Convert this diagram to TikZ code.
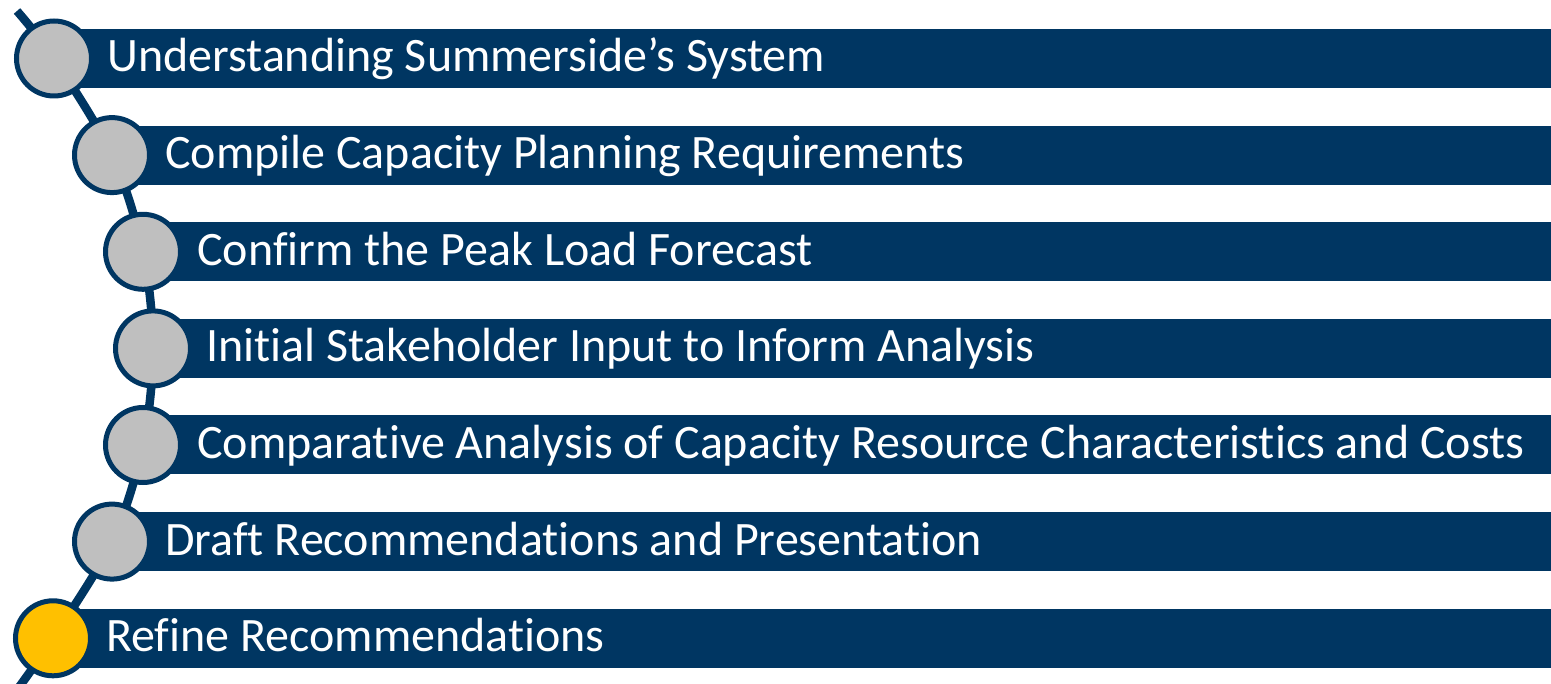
\documentclass[tikz,border=0pt]{standalone}
\usepackage{fontspec}
\setmainfont[Ligatures={NoCommon}]{Carlito}
\definecolor{navy}{RGB}{0,54,98}
\definecolor{dotgray}{RGB}{191,191,191}
\definecolor{gold}{RGB}{255,192,0}
\begin{document}
\begin{tikzpicture}[x=1pt,y=-1pt,
  bar/.style={fill=navy, draw=none, minimum height=59pt, inner sep=0pt, anchor=west},
  dot/.style={circle, draw=navy, line width=5pt, fill=dotgray, minimum size=75pt, inner sep=0pt},
  label/.style={anchor=base west, inner sep=0pt, text=white, font=\fontsize{48}{57}\selectfont},
  spine/.style={draw=navy, line width=8.5pt, line cap=butt}
]
\useasboundingbox (0,0) rectangle (1551,684);
% positions
\coordinate (p1) at (54,58.5);
\coordinate (p2) at (112,155.1);
\coordinate (p3) at (143,251.8);
\coordinate (p4) at (153,348.4);
\coordinate (p5) at (143,445);
\coordinate (p6) at (112,541.6);
\coordinate (p7) at (53,638.3);
\coordinate (top) at (17,11);
\coordinate (bot) at (14,694);
% spine
\draw[spine] plot[smooth, tension=0.55] coordinates {(top) (p1) (p2) (p3) (p4) (p5) (p6) (p7) (bot)};
% bars
\node[bar, minimum width=1497pt] (b1) at (p1) {};
\node[bar, minimum width=1439pt] (b2) at (p2) {};
\node[bar, minimum width=1408pt] (b3) at (p3) {};
\node[bar, minimum width=1398pt] (b4) at (p4) {};
\node[bar, minimum width=1408pt] (b5) at (p5) {};
\node[bar, minimum width=1439pt] (b6) at (p6) {};
\node[bar, minimum width=1498pt] (b7) at (p7) {};
% circles
\node[dot] (c1) at (p1) {};
\node[dot] (c2) at (p2) {};
\node[dot] (c3) at (p3) {};
\node[dot] (c4) at (p4) {};
\node[dot] (c5) at (p5) {};
\node[dot] (c6) at (p6) {};
\node[dot, fill=gold] (c7) at (p7) {};
% labels
\node[label] (t1) at ([xshift=53pt,yshift=-13.5pt]p1) {Understanding Summerside’s System};
\node[label] (t2) at ([xshift=53pt,yshift=-13.5pt]p2) {Compile Capacity Planning Requirements};
\node[label] (t3) at ([xshift=54pt,yshift=-13.5pt]p3) {Confirm the Peak Load Forecast};
\node[label] (t4) at ([xshift=53pt,yshift=-13.5pt]p4) {Initial Stakeholder Input to Inform Analysis};
\node[label] (t5) at ([xshift=54pt,yshift=-13.5pt]p5) {Comparative Analysis of Capacity Resource Characteristics and Costs};
\node[label] (t6) at ([xshift=53pt,yshift=-13.5pt]p6) {Draft Recommendations and Presentation};
\node[label] (t7) at ([xshift=53pt,yshift=-13.5pt]p7) {Refine Recommendations};
\end{tikzpicture}
\end{document}
